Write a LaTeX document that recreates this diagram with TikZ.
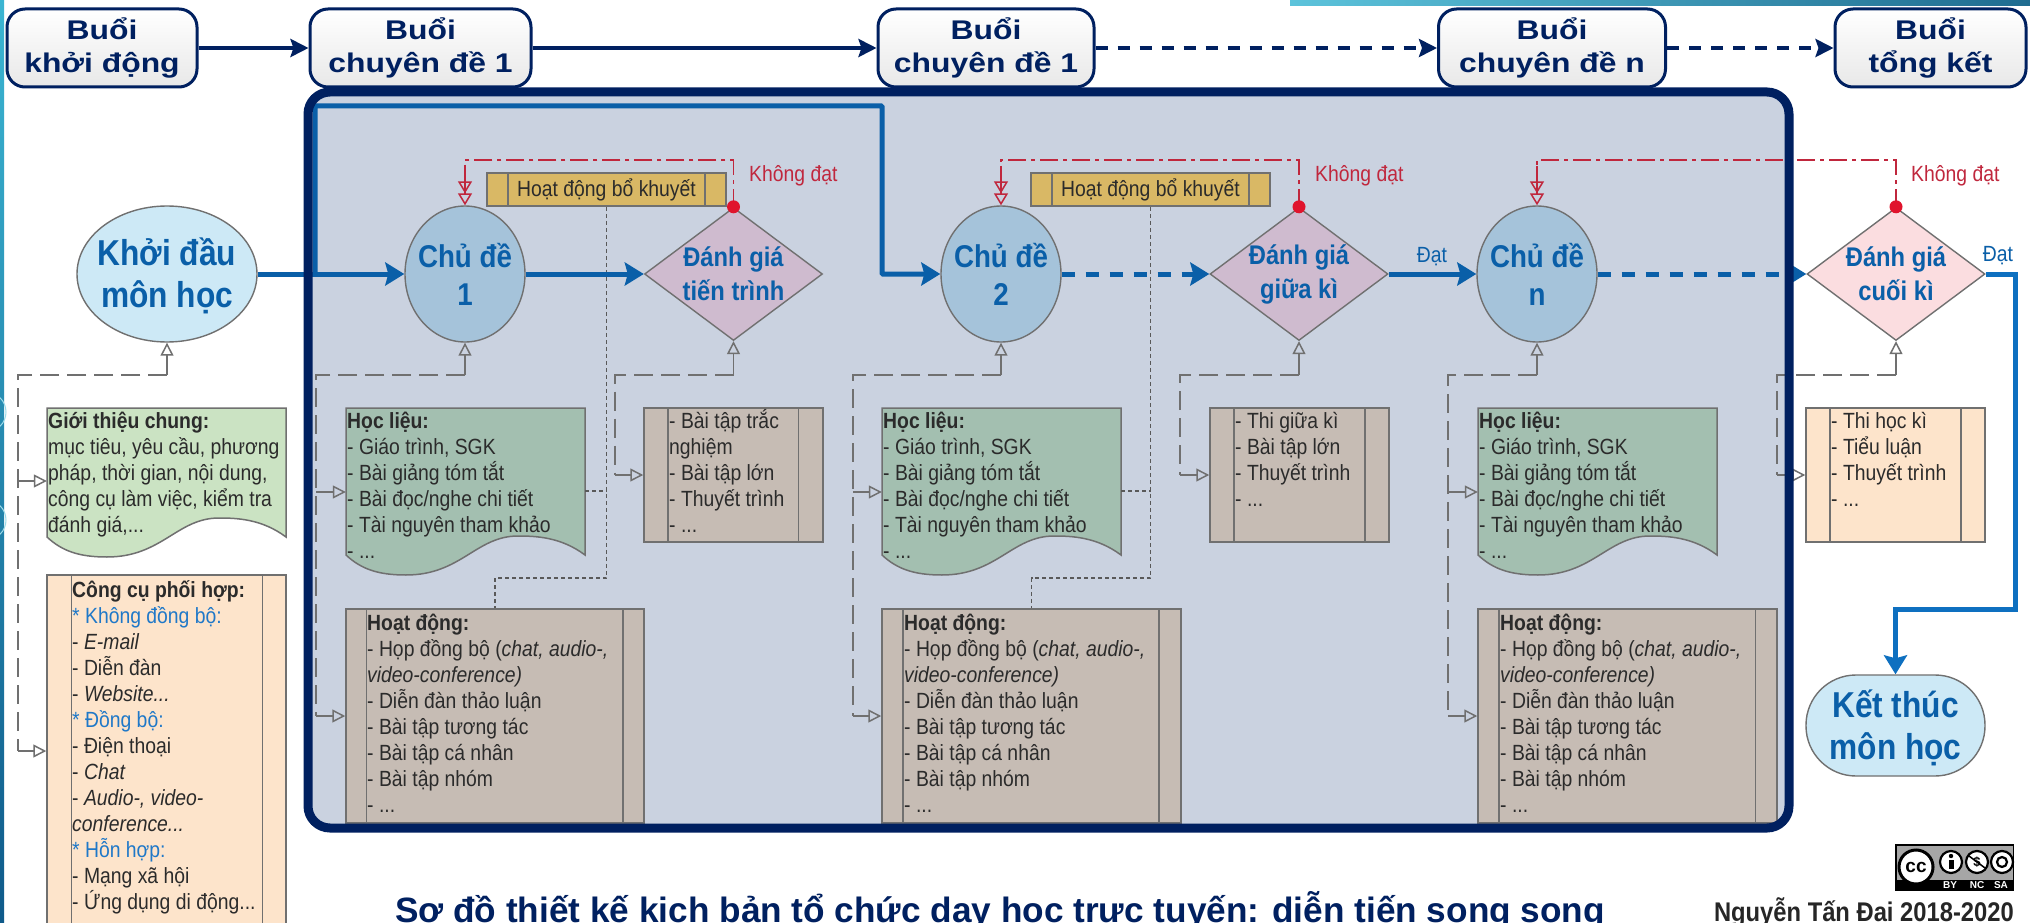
\documentclass[tikz,border=0pt]{standalone}
\usepackage{fontspec}
\usetikzlibrary{arrows.meta,shapes.geometric,fit,calc}
\setmainfont{Liberation Sans}
\newfontfamily\nar[FakeStretch=0.88]{Liberation Sans}
\newfontfamily\wid[FakeStretch=1.18]{Liberation Sans}
\definecolor{navyc}{HTML}{002060}
\definecolor{bluec}{HTML}{0A5FA8}
\definecolor{brightb}{HTML}{0E70C0}
\definecolor{panelc}{HTML}{CAD2E0}
\definecolor{lightb}{HTML}{CDE9F6}
\definecolor{topicc}{HTML}{A5C3DA}
\definecolor{mauvec}{HTML}{CFBBCF}
\definecolor{pinkc}{HTML}{FBDDE0}
\definecolor{greenl}{HTML}{CBE3C3}
\definecolor{greend}{HTML}{A3BFB0}
\definecolor{tanc}{HTML}{C6BCB4}
\definecolor{peachc}{HTML}{FDE4CB}
\definecolor{goldc}{HTML}{D9B865}
\definecolor{grayl}{HTML}{707070}
\definecolor{redc}{HTML}{C0273D}
\definecolor{reddot}{HTML}{E0142D}
\definecolor{bodyc}{HTML}{2B2B2B}
\definecolor{starc}{HTML}{1F78C8}
\definecolor{stript}{HTML}{3BB5D2}
\definecolor{stripb}{HTML}{0F5A8A}
\definecolor{barl}{HTML}{5CC3DB}
\definecolor{barr}{HTML}{1F6C90}
\newcommand\fl{\rule{0pt}{20pt}\ignorespaces}
\tikzset{
 x=1pt,y=-1pt,
 sess/.style={draw=navyc,line width=3pt,rounded corners=18pt,minimum height=78pt,inner sep=0pt,
   top color=white,bottom color=black!9,text=navyc,align=center,
   font=\wid\bfseries\fontsize{27}{33}\selectfont},
 navyline/.style={draw=navyc,line width=4pt,-{Stealth[length=18pt,width=18pt,inset=3pt]}},
 navydash/.style={navyline,dash pattern=on 12pt off 10pt},
 blueline/.style={draw=bluec,line width=5pt,-{Stealth[length=19pt,width=23pt,inset=3pt]}},
 bluedash/.style={blueline,dash pattern=on 13pt off 11pt},
 startnode/.style={draw=grayl,line width=1.4pt,fill=lightb,inner sep=0pt},
 starttxt/.style={text=bluec,align=center,inner sep=0pt,yshift=-2pt,font=\nar\bfseries\fontsize{36}{42}\selectfont},
 topic/.style={ellipse,draw=grayl,line width=1.4pt,fill=topicc,minimum width=120pt,minimum height=136pt,inner sep=0pt},
 topictxt/.style={text=bluec,align=center,inner sep=0pt,font=\nar\bfseries\fontsize{31.5}{38}\selectfont},
 judge/.style={diamond,draw=grayl,line width=1.4pt,fill=mauvec,minimum width=178pt,minimum height=133pt,inner sep=0pt},
 judgetxt/.style={text=bluec,align=center,inner sep=0pt,font=\nar\bfseries\fontsize{27}{34}\selectfont},
 boxst/.style={draw=grayl,line width=1.5pt,inner sep=0pt},
 bodytext/.style={anchor=north west,inner sep=0pt,align=left,text=bodyc,font=\nar\fontsize{22}{26}\selectfont},
 redlabel/.style={text=redc,inner sep=0pt,font=\nar\fontsize{22}{26}\selectfont},
 bluelabel/.style={text=bluec,inner sep=0pt,font=\nar\fontsize{22}{26}\selectfont},
 trunkline/.style={draw=grayl,line width=1.5pt,dash pattern=on 19pt off 8pt},
 stubline/.style={draw=grayl,line width=1.5pt,-{Triangle[open,length=13pt,width=13pt]}},
 dotline/.style={draw=black!65,line width=1.4pt,dash pattern=on 4pt off 3pt},
 redline/.style={draw=redc,line width=1.5pt,dash pattern=on 18pt off 5pt on 4pt off 5pt},
 redend/.style={draw=redc,line width=1.5pt,-{Triangle[open,length=12pt,width=14pt] Triangle[open,length=12pt,width=14pt]}},
 reddotst/.style={circle,fill=reddot,minimum size=13pt,inner sep=0pt},
}
% name x1 y1 x2 y2 inner1 inner2 fill
\newcommand\sidebox[8]{%
 \node[boxst,fill=#8,fit={(#2,#3)(#4,#5)}] (#1) {};
 \draw[boxst] (#6,#3) -- (#6,#5);
 \draw[boxst] (#7,#3) -- (#7,#5);}
% name x1 ytop relative-edge fill
\newcommand\docbox[5]{%
 \pgfmathsetmacro\ee{#4}\pgfmathsetmacro\ec{#4-19}\pgfmathsetmacro\et{#4+20}%
 \begin{scope}[shift={(#2,#3)}]
 \draw[boxst,fill=#5] (0,0) -- (239,0) -- (239,\ee) .. controls (215,\ec+1) and (190,\ec) .. (172,\ec)
   .. controls (130,\ec) and (115,\et) .. (60,\et) .. controls (32,\et) and (15,\et-6) .. (0,\ee) -- cycle;
 \node[fit={(0,0)(239,\ee)},inner sep=0pt] (#1) {};
 \end{scope}}
\begin{document}
\begin{tikzpicture}
\useasboundingbox (0,0) rectangle (2030,923);
\clip (0,0) rectangle (2030,923);
\fill[white] (0,0) rectangle (2030,923);
% page decoration
\shade[top color=stript,bottom color=stripb] (0,0) rectangle (4,923);
\shade[left color=barl,right color=barr] (1290,0) rectangle (2030,6);
\draw[barl!60,line width=1pt] (-14,412) circle[radius=20];
\draw[barl!60,line width=1pt] (-14,520) circle[radius=20];
% sessions
\node[sess,minimum width=190pt] (s1) at (102,48) {Buổi\\khởi động};
\node[sess,minimum width=221pt] (s2) at (420.5,48) {Buổi\\chuyên đề 1};
\node[sess,minimum width=216pt] (s3) at (986,48) {Buổi\\chuyên đề 1};
\node[sess,minimum width=227pt] (s4) at (1552,48) {Buổi\\chuyên đề n};
\node[sess,minimum width=191pt] (s5) at (1930.5,48) {Buổi\\tổng kết};
\draw[navyline] (s1) -- (s2);
\draw[navyline] (s2) -- (s3);
\draw[navydash] (s3) -- (s4);
\draw[navydash] (s4) -- (s5);
% panel
\fill[panelc,rounded corners=22pt] (308,92) rectangle (1789,828);
% main nodes
\node[startnode,ellipse,minimum width=180pt,minimum height=136pt] (start) at (167,274) {};
\node[starttxt] at (start) {Khởi đầu\\môn học};
\node[topic] (c1) at (465,274) {};
\node[topictxt] at (c1) {Chủ đề\\1};
\node[judge] (d1) at (733.5,274) {};
\node[judgetxt] at (d1) {Đánh giá\\tiến trình};
\node[topic] (c2) at (1001,274) {};
\node[topictxt] at (c2) {Chủ đề\\2};
\node[judge] (d2) at (1299,274) {};
\node[judgetxt] at (d2) {Đánh giá\\giữa kì};
\node[topic] (c3) at (1537,274) {};
\node[topictxt] at (c3) {Chủ đề\\n};
\node[judge,fill=pinkc] (d3) at (1896,274) {};
\node[judgetxt] at (d3) {Đánh giá\\cuối kì};
\node[startnode,rounded corners=50pt,minimum width=179pt,minimum height=101pt] (end) at (1895.5,725.5) {};
\node[starttxt] at (end) {Kết thúc\\môn học};
% remedial boxes
\sidebox{hb1}{487}{173}{726}{206}{508}{705}{goldc}
\sidebox{hb2}{1031}{173}{1270}{206}{1052}{1249}{goldc}
\node[bodytext,anchor=center] at (hb1) {Hoạt động bổ khuyết};
\node[bodytext,anchor=center] at (hb2) {Hoạt động bổ khuyết};
% resources
\docbox{intro}{47}{408}{129}{greenl}
\docbox{hl1}{346}{408}{147}{greend}
\docbox{hl2}{882}{408}{147}{greend}
\docbox{hl3}{1478}{408}{147}{greend}
\sidebox{tools}{47}{575}{286}{940}{71.5}{262.5}{peachc}
\sidebox{hd1}{346}{609}{644}{823}{366.5}{623}{tanc}
\sidebox{hd2}{882}{609}{1181}{823}{903}{1159}{tanc}
\sidebox{hd3}{1478}{609}{1777}{823}{1499}{1755.5}{tanc}
\sidebox{ev1}{644}{408}{823}{542}{668}{798.5}{tanc}
\sidebox{ev2}{1210}{408}{1389}{542}{1234}{1365}{tanc}
\sidebox{ev3}{1806}{408}{1985}{542}{1830}{1961}{peachc}
% texts of the boxes
\node[bodytext] at (48,408) {\fl\textbf{Giới thiệu chung:}\\mục tiêu, yêu cầu, phương\\pháp, thời gian, nội dung,\\công cụ làm việc, kiểm tra\\đánh giá,...};
\node[bodytext] at (72,577) {\fl\textbf{Công cụ phối hợp:}\\{\color{starc}* Không đồng bộ:}\\- \textit{E-mail}\\- Diễn đàn\\- \textit{Website...}\\{\color{starc}* Đồng bộ:}\\- Điện thoại\\- \textit{Chat}\\- \textit{Audio-, video-}\\\textit{conference...}\\{\color{starc}* Hỗn hợp:}\\- Mạng xã hội\\- Ứng dụng di động...};
\foreach \x in {347,883,1479}{
 \node[bodytext] at (\x,408) {\fl\textbf{Học liệu:}\\- Giáo trình, SGK\\- Bài giảng tóm tắt\\- Bài đọc/nghe chi tiết\\- Tài nguyên tham khảo\\- ...};}
\foreach \x in {367,904,1500}{
 \node[bodytext] at (\x,610) {\fl\textbf{Hoạt động:}\\- Họp đồng bộ (\textit{chat, audio-,}\\\textit{video-conference)}\\- Diễn đàn thảo luận\\- Bài tập tương tác\\- Bài tập cá nhân\\- Bài tập nhóm\\- ...};}
\node[bodytext] at (669,408) {\fl- Bài tập trắc\\nghiệm\\- Bài tập lớn\\- Thuyết trình\\- ...};
\node[bodytext] at (1235,408) {\fl- Thi giữa kì\\- Bài tập lớn\\- Thuyết trình\\- ...};
\node[bodytext] at (1831,408) {\fl- Thi học kì\\- Tiểu luận\\- Thuyết trình\\- ...};
% dotted links
\draw[dotline] (hb1.south) -- (hb1.south |- 0,578) -| (hd1.north);
\draw[dotline] (hb2.south) -- (hb2.south |- 0,578) -| (hd2.north);
\draw[dotline] (hl1.east |- 0,491) -- (hb1.south |- 0,491);
\draw[dotline] (hl2.east |- 0,491) -- (hb2.south |- 0,491);
% gray feeders
\coordinate (a0) at (167,375); \coordinate (b0) at (18,375);
\draw[stubline] (a0) -- (start.south);
\draw[trunkline] (a0) -- (b0) -- (b0 |- 0,751);
\draw[stubline] (b0 |- 0,481) -- (intro.west |- 0,481);
\draw[stubline] (b0 |- 0,751) -- (tools.west |- 0,751);
\coordinate (a1) at (465,375); \coordinate (b1) at (316,375);
\draw[stubline] (a1) -- (c1.south);
\draw[trunkline] (a1) -- (b1) -- (b1 |- 0,716);
\draw[stubline] (b1 |- 0,492) -- (hl1.west |- 0,492);
\draw[stubline] (b1 |- 0,716) -- (hd1.west |- 0,716);
\coordinate (a2) at (733.5,375); \coordinate (b2) at (615,375);
\draw[stubline] (a2) -- (d1.south);
\draw[trunkline] (a2) -- (b2) -- (b2 |- 0,475);
\draw[stubline] (b2 |- 0,475) -- (ev1.west |- 0,475);
\coordinate (a3) at (1001,375); \coordinate (b3) at (853,375);
\draw[stubline] (a3) -- (c2.south);
\draw[trunkline] (a3) -- (b3) -- (b3 |- 0,716);
\draw[stubline] (b3 |- 0,492) -- (hl2.west |- 0,492);
\draw[stubline] (b3 |- 0,716) -- (hd2.west |- 0,716);
\coordinate (a4) at (1299,375); \coordinate (b4) at (1180,375);
\draw[stubline] (a4) -- (d2.south);
\draw[trunkline] (a4) -- (b4) -- (b4 |- 0,475);
\draw[stubline] (b4 |- 0,475) -- (ev2.west |- 0,475);
\coordinate (a5) at (1537,375); \coordinate (b5) at (1448,375);
\draw[stubline] (a5) -- (c3.south);
\draw[trunkline] (a5) -- (b5) -- (b5 |- 0,716);
\draw[stubline] (b5 |- 0,492) -- (hl3.west |- 0,492);
\draw[stubline] (b5 |- 0,716) -- (hd3.west |- 0,716);
\coordinate (a6) at (1896,375); \coordinate (b6) at (1777,375);
\draw[stubline] (a6) -- (d3.south);
\draw[trunkline] (a6) -- (b6) -- (b6 |- 0,475);
\draw[stubline] (b6 |- 0,475) -- (ev3.west |- 0,475);
% red loops
\coordinate (r1) at (465,160); \coordinate (r2) at (1001,160); \coordinate (r3) at (1537,160);
\draw[redline] (d1.north) |- (r1) -- (r1 |- 0,182);
\draw[redline] (d2.north) |- (r2) -- (r2 |- 0,182);
\draw[redline] (d3.north) |- (r3) -- (r3 |- 0,182);
\draw[redend] (r1 |- 0,166) -- (c1.north);
\draw[redend] (r2 |- 0,166) -- (c2.north);
\draw[redend] (r3 |- 0,166) -- (c3.north);
\node[reddotst] at (d1.north) {};
\node[reddotst] at (d2.north) {};
\node[reddotst] at (d3.north) {};
\node[redlabel,anchor=west] at (749,176) {Không đạt};
\node[redlabel,anchor=west] at (1315,176) {Không đạt};
\node[redlabel,anchor=west] at (1911,176) {Không đạt};
\node[bluelabel] at (1432,257) {Đạt};
\node[bluelabel] at (1998,256) {Đạt};
% blue flow
\draw[blueline] (start) -- (c1);
\draw[blueline] (c1) -- (d1);
\coordinate (up1) at (315,106); \coordinate (up2) at (882,106);
\draw[blueline,rounded corners=1pt] (315,274) -- (up1) -- (up2) |- (c2.west);
\draw[bluedash] (c2) -- (d2);
\draw[blueline] (d2) -- (c3);
\draw[bluedash] (c3) -- (d3);
\coordinate (o1) at (2015,274); \coordinate (o2) at (2015,609);
\draw[blueline,draw=brightb] (d3.east) -- (o1) -- (o2) -| (end.north);
% panel border on top
\draw[navyc,line width=9pt,rounded corners=22pt] (308,92) rectangle (1789,828);
% title and credit
\node[anchor=base west,inner sep=0pt,text=navyc,font=\bfseries\fontsize{35.2}{40}\selectfont] (title) at (395,922) {Sơ đồ thiết kế kịch bản tổ chức dạy học trực tuyến: diễn tiến song song};
\node[anchor=base east,inner sep=0pt,text=black!85,font=\nar\bfseries\fontsize{27}{30}\selectfont] (credit) at (2014,921) {Nguyễn Tấn Đại 2018-2020};
% licence badge
\fill[black] (1895,844) rectangle (2014,891);
\fill[black!35] (1896.5,845.5) rectangle (2012.5,880);
\draw[black,fill=white,line width=3pt] (1916,867) circle[radius=17];
\node[inner sep=0pt,font=\bfseries\fontsize{19}{19}\selectfont] at (1916,867) {cc};
\foreach \x in {1951,1977,2002}{\draw[black,fill=white,line width=2.2pt] (\x,862) circle[radius=11];}
\fill[black] (1951,856) circle[radius=2.2];
\fill[black] (1948.5,859.5) rectangle (1953.5,869);
\node[inner sep=0pt,font=\bfseries\fontsize{13}{13}\selectfont] at (1977,862) {\$};
\draw[black,line width=1.5pt] (1969,856) -- (1985,868);
\draw[black,line width=2.2pt] (2002,862) circle[radius=5];
\node[inner sep=0pt,text=white,font=\bfseries\fontsize{10}{10}\selectfont] at (1950,885.5) {BY};
\node[inner sep=0pt,text=white,font=\bfseries\fontsize{10}{10}\selectfont] at (1977,885.5) {NC};
\node[inner sep=0pt,text=white,font=\bfseries\fontsize{10}{10}\selectfont] at (2001,885.5) {SA};
\end{tikzpicture}
\end{document}
